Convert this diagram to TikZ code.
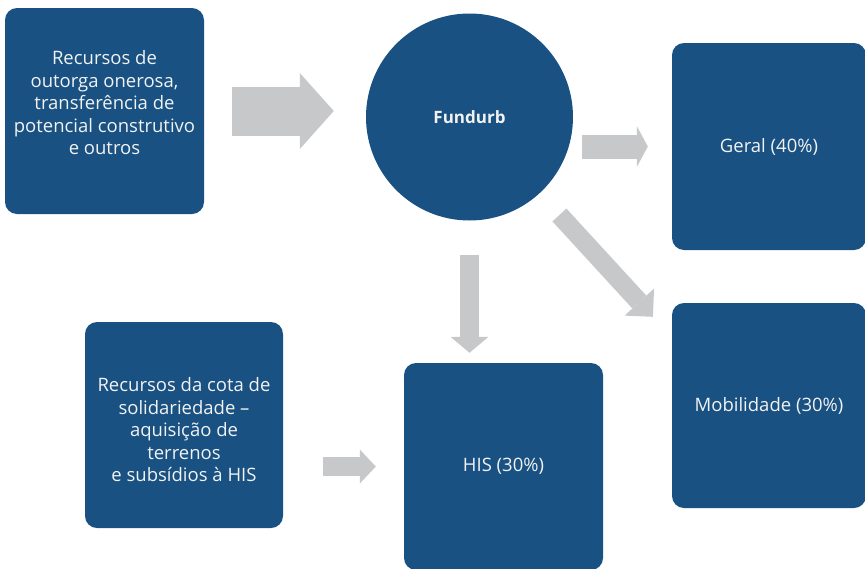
\documentclass[tikz,border=0pt]{standalone}
\usepackage{fontspec}
\setmainfont{Open Sans}
\usetikzlibrary{arrows.meta}
\definecolor{boxc}{RGB}{24,81,130}
\definecolor{arrc}{RGB}{199,200,202}
\definecolor{txtc}{RGB}{242,242,242}
\tikzset{
  box/.style={fill=boxc, rounded corners=12pt, align=center, text=txtc, inner sep=2pt, font=\fontsize{18.5}{22.5}\selectfont},
  disc/.style={box, circle, inner sep=0pt, minimum size=207pt, font=\fontsize{17}{22.5}\selectfont\bfseries},
  flow/.style n args={3}{draw=arrc, line width=#1, -{Triangle[width=#2, length=#3, line width=0pt]}}
}
\begin{document}
\begin{tikzpicture}[x=1pt, y=-1pt]
  \useasboundingbox (0,0) rectangle (865,568);
  \node[box, minimum width=199pt, minimum height=206pt, text depth=17pt] (recurs) at (104.5,111) {Recursos de\\outorga onerosa,\\transferência de\\potencial construtivo\\e outros};
  \node[disc] (fundurb) at (469.5,117) {Fundurb};
  \node[box, minimum width=194pt, minimum height=207pt] (geral) at (769,146.5) {Geral (40\%)};
  \node[box, minimum width=194pt, minimum height=205pt] (mob) at (769,405.5) {Mobilidade (30\%)};
  \node[box, minimum width=199pt, minimum height=207pt] (his) at (503.5,466.5) {HIS (30\%)};
  \node[box, minimum width=198pt, minimum height=206pt, text height=114pt] (cota) at (184,425) {Recursos da cota de\\solidariedade –\\aquisição de\\terrenos\\e subsídios à HIS};

  \draw[flow={49pt}{76pt}{34pt}, shorten <=28pt, shorten >=32pt] (recurs.east) -- (recurs.east -| fundurb.west);
  \draw[flow={24pt}{41pt}{11pt}, shorten <=9pt, shorten >=24pt] (geral.west -| fundurb.east) -- (geral.west);
  \draw[flow={19pt}{40pt}{20pt}, shorten <=133pt, shorten >=28pt] (fundurb.center) -- (mob.145);
  \draw[flow={19pt}{38pt}{16pt}, shorten <=34.5pt, shorten >=10pt] (fundurb.south) -- (fundurb.south |- his.north);
  \draw[flow={19pt}{34pt}{16pt}, shorten <=40pt, shorten >=28pt] (cota.east |- his.west) -- (his.west);
\end{tikzpicture}
\end{document}
